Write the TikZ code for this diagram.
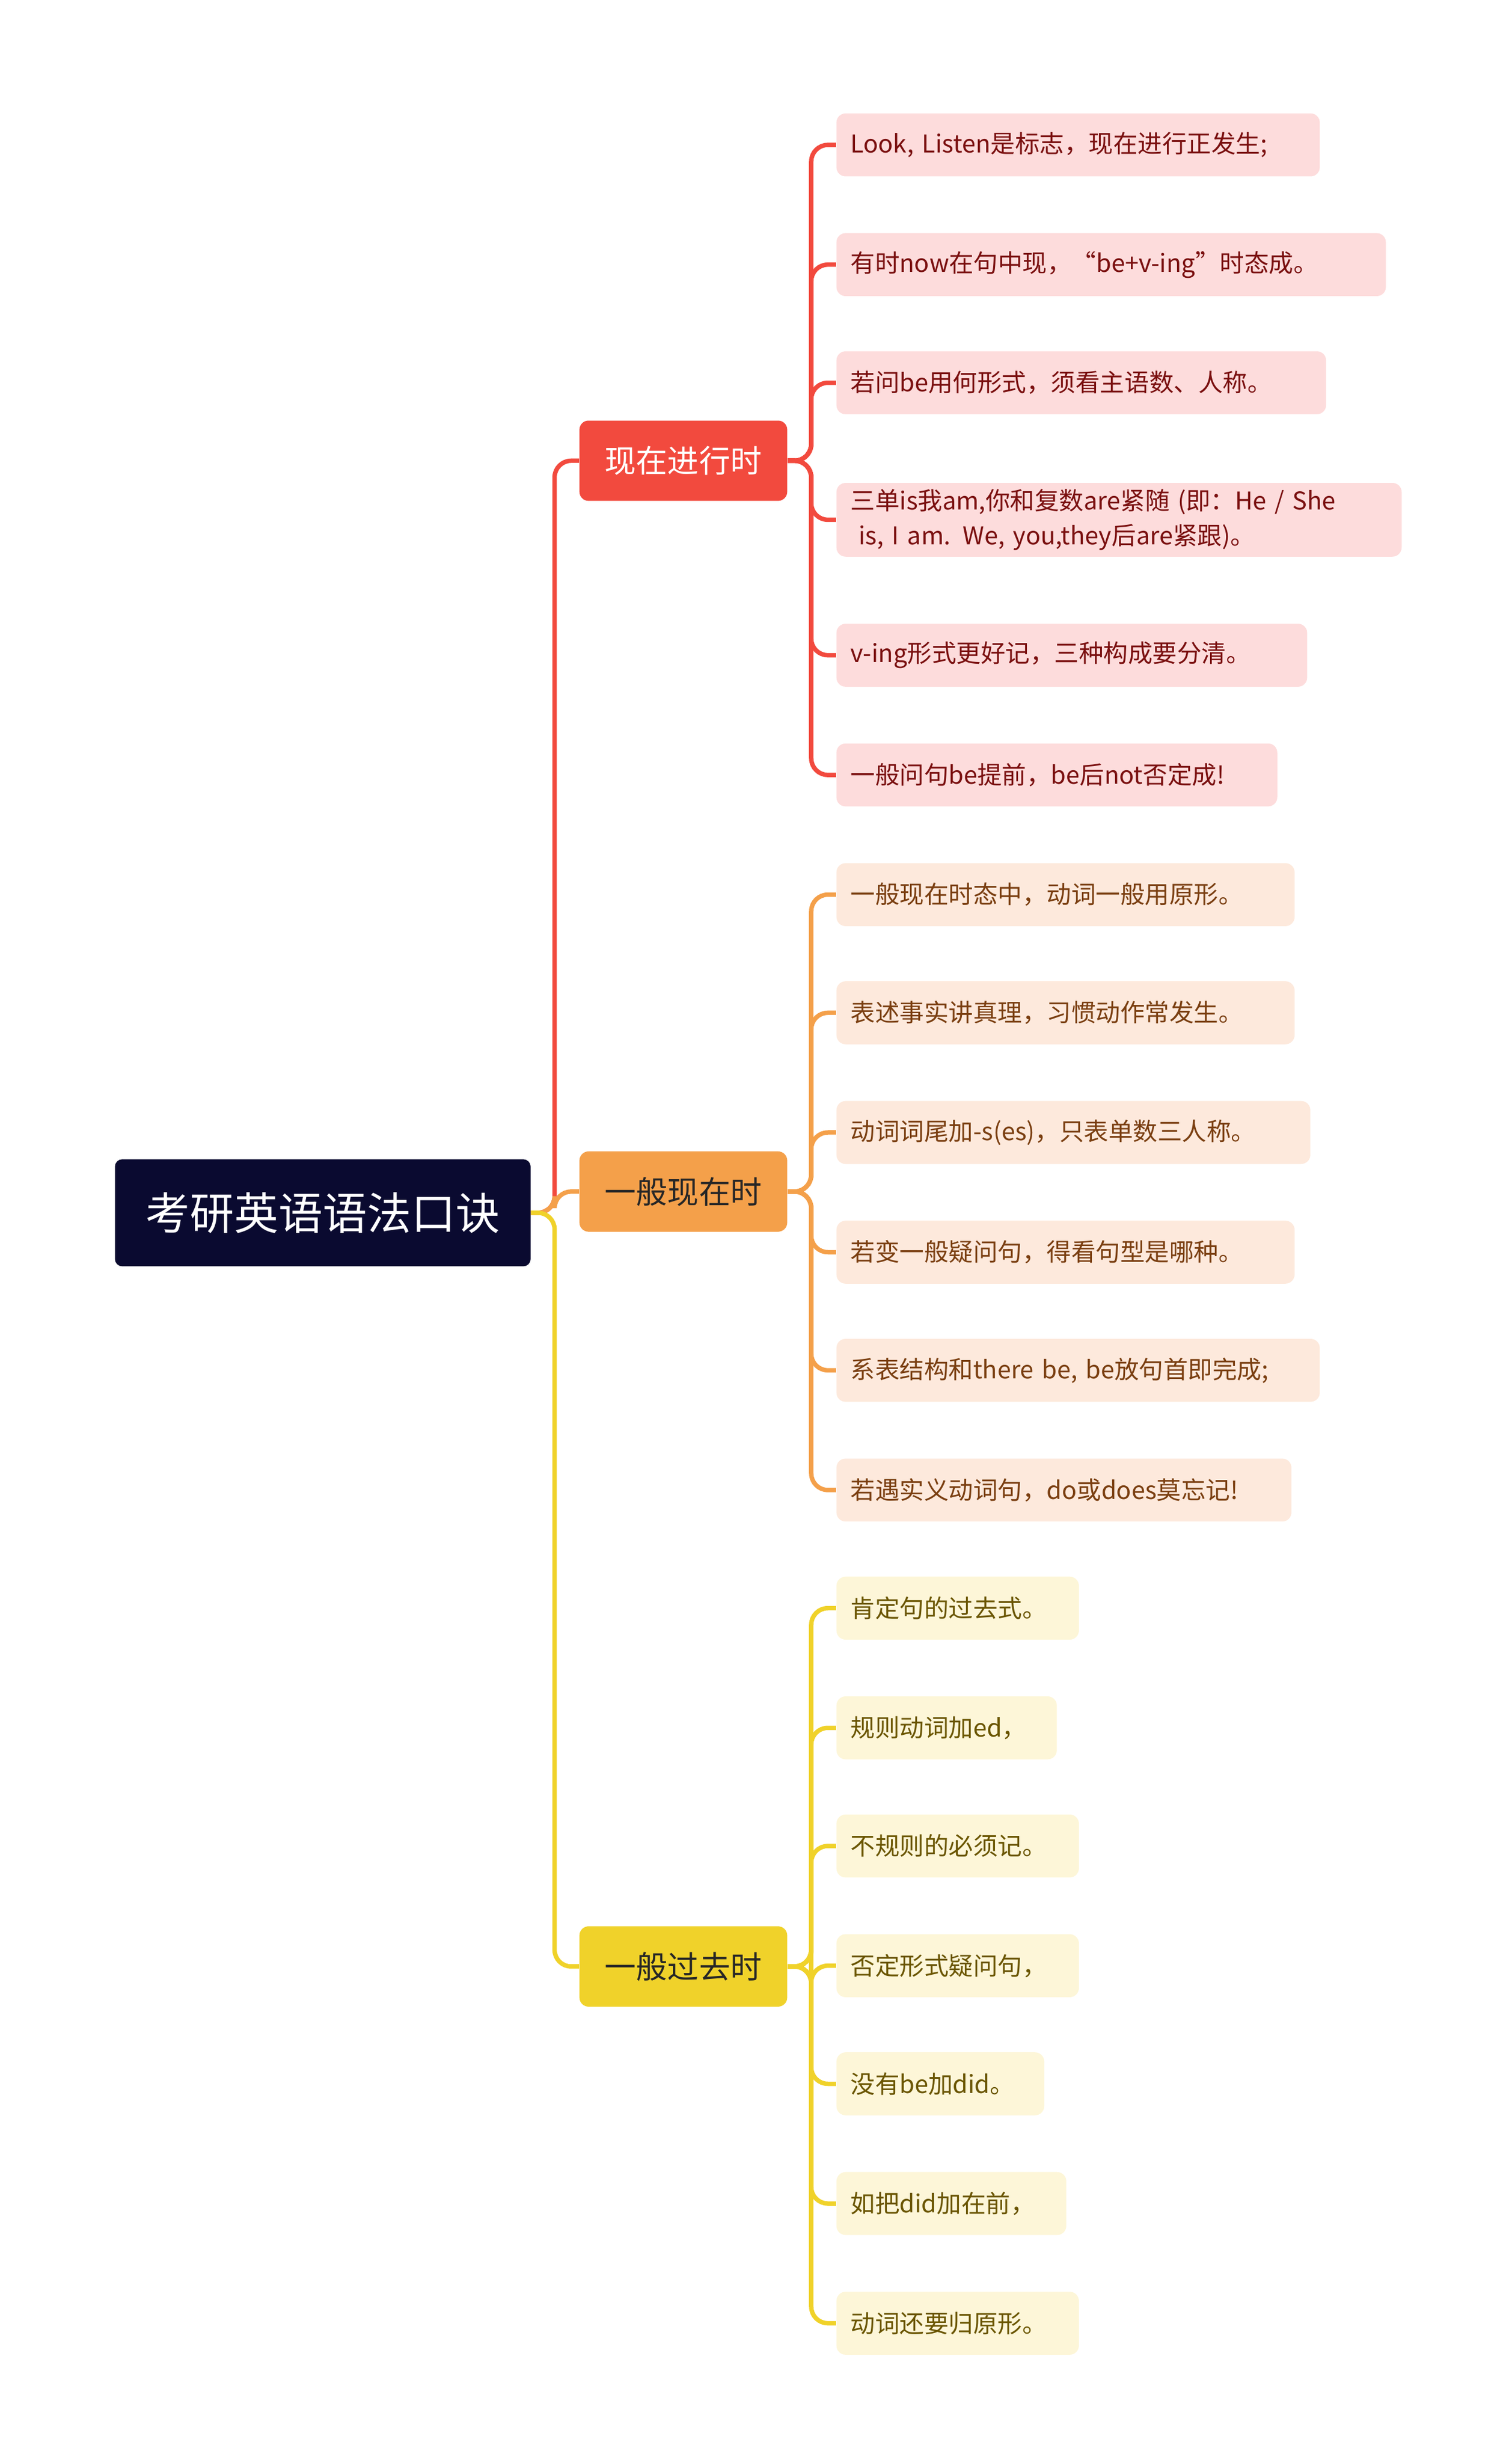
\documentclass[tikz,border=0pt]{standalone}
\usepackage{fontspec}
\setmainfont{Noto Sans CJK SC}
\begin{document}
\begin{tikzpicture}[x=0.03cm,y=-0.03cm,
  root/.style={fill=rootc,text=white,rounded corners=4pt,minimum width=264*0.03cm,minimum height=68*0.03cm,font=\fontsize{24}{28}\selectfont},
  branch/.style={rounded corners=5pt,minimum width=132*0.03cm,minimum height=51*0.03cm,font=\fontsize{17}{20}\selectfont},
  leaf/.style={anchor=west,rounded corners=5pt,inner xsep=9*0.03cm,minimum height=40*0.03cm,align=left,font=\fontsize{13.3}{19}\selectfont},
  link/.style={line width=2.4pt,rounded corners=9pt}]
\definecolor{rootc}{HTML}{0A0A30}
\definecolor{rc}{HTML}{F24A3E}\definecolor{rl}{HTML}{FDDCDC}\definecolor{rt}{HTML}{7A0F0F}
\definecolor{oc}{HTML}{F4A04A}\definecolor{ol}{HTML}{FDE9DC}\definecolor{ot}{HTML}{7A3E10}
\definecolor{yc}{HTML}{F0D22A}\definecolor{yl}{HTML}{FDF6D8}\definecolor{yt}{HTML}{6A5500}
\useasboundingbox (0,0) rectangle (960,1563.75);
\node[root] (r) at (205,770) {考研英语语法口诀};
\node[branch,fill=rc,text=white] (b1) at (434,292.5) {现在进行时};
\node[branch,fill=oc,text=black!85] (b2) at (434,756.5) {一般现在时};
\node[branch,fill=yc,text=black!85] (b3) at (434,1248.5) {一般过去时};
\draw[link,rc] (r.east) -- ++(15,0) |- (b1.west);
\draw[link,oc] (r.east) -- ++(15,0) |- (b2.west);
\draw[link,yc] (r.east) -- ++(15,0) |- (b3.west);
\foreach \n/\y/\w/\t in {a1/92/307/{Look, Listen是标志，现在进行正发生;},
  a2/168/349/{有时now在句中现，“be+v-ing”时态成。},
  a3/243/311/{若问be用何形式，须看主语数、人称。},
  a4/330/359/{三单is我am,你和复数are紧随 (即：He / She\\\ is, I am. We, you,they后are紧跟)。},
  a5/416/299/{v-ing形式更好记，三种构成要分清。},
  a6/492/280/{一般问句be提前，be后not否定成!}}{
  \node[leaf,fill=rl,text=rt,minimum width=\w*0.03cm,text width=(\w-18)*0.03cm] (\n) at (531,\y) {\t};
  \draw[link,rc] (b1.east) -- ++(15,0) |- (\n.west);}
\foreach \n/\y/\w/\t in {c1/568/291/{一般现在时态中，动词一般用原形。},
  c2/643/291/{表述事实讲真理，习惯动作常发生。},
  c3/719/301/{动词词尾加-s(es)，只表单数三人称。},
  c4/795/291/{若变一般疑问句，得看句型是哪种。},
  c5/870/307/{系表结构和there be, be放句首即完成;},
  c6/946/289/{若遇实义动词句，do或does莫忘记!}}{
  \node[leaf,fill=ol,text=ot,minimum width=\w*0.03cm,text width=(\w-18)*0.03cm] (\n) at (531,\y) {\t};
  \draw[link,oc] (b2.east) -- ++(15,0) |- (\n.west);}
\foreach \n/\y/\w/\t in {d1/1021/154/{肯定句的过去式。},
  d2/1097/140/{规则动词加ed，},
  d3/1172/154/{不规则的必须记。},
  d4/1248/154/{否定形式疑问句，},
  d5/1323/132/{没有be加did。},
  d6/1399/146/{如把did加在前，},
  d7/1475/154/{动词还要归原形。}}{
  \node[leaf,fill=yl,text=yt,minimum width=\w*0.03cm,text width=(\w-18)*0.03cm] (\n) at (531,\y) {\t};
  \draw[link,yc] (b3.east) -- ++(15,0) |- (\n.west);}
\end{tikzpicture}
\end{document}
